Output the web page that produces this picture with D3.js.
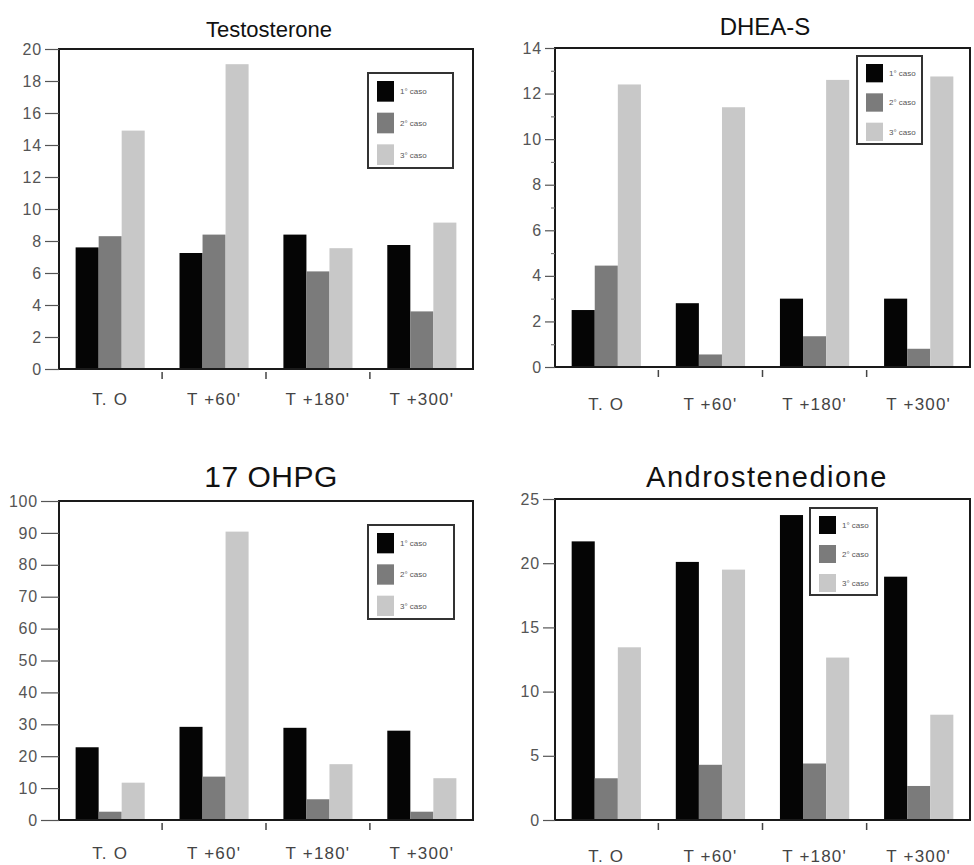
<!DOCTYPE html>
<html>
<head>
<meta charset="utf-8">
<script src="https://cdn.jsdelivr.net/npm/d3@7"></script>
<style>
  body { margin: 0; background: #fff; }
  text { font-family: "Liberation Sans", Arial, sans-serif; }
</style>
</head>
<body>
<div id="chart"></div>
<script>
// Shared categories
const timepoints = ["T. O", "T +60'", "T +180'", "T +300'"];
const cases = ["1° caso", "2° caso", "3° caso"];
const caseColors = ["#050505", "#7b7b7b", "#c8c8c8"];

// Testosterone
const testoCase1 = [7.6, 7.25, 8.4, 7.75];
const testoCase2 = [8.3, 8.4, 6.1, 3.6];
const testoCase3 = [14.9, 19.05, 7.55, 9.15];
const testoTicks = [0, 2, 4, 6, 8, 10, 12, 14, 16, 18, 20];

// DHEA-S
const dheaCase1 = [2.5, 2.8, 3.0, 3.0];
const dheaCase2 = [4.45, 0.55, 1.35, 0.8];
const dheaCase3 = [12.4, 11.4, 12.6, 12.75];
const dheaTicks = [0, 2, 4, 6, 8, 10, 12, 14];
const dheaMinor = [1, 3, 5, 7, 9, 11, 13];

// 17 OHPG
const ohpgCase1 = [22.8, 29.2, 28.9, 28.0];
const ohpgCase2 = [2.6, 13.6, 6.5, 2.6];
const ohpgCase3 = [11.7, 90.4, 17.5, 13.1];
const ohpgTicks = [0, 10, 20, 30, 40, 50, 60, 70, 80, 90, 100];

// Androstenedione
const androCase1 = [21.7, 20.1, 23.75, 18.95];
const androCase2 = [3.25, 4.3, 4.4, 2.65];
const androCase3 = [13.45, 19.5, 12.65, 8.2];
const androTicks = [0, 5, 10, 15, 20, 25];

const width = 974;
const height = 865;

const svg = d3.select("#chart")
    .append("svg")
    .attr("width", width)
    .attr("height", height)
    .style("background-color", "#ffffff");

// Panel layout (positions only)
const panels = [
    { title: "Testosterone", titleSize: 22, titleX: 269, titleY: 37, spacing: 0,
      left: 59, top: 49, right: 473, bottom: 369, ticks: testoTicks, minor: [],
      series: [testoCase1, testoCase2, testoCase3], tickLen: 14, labelY: 405,
      legend: { x: 368, y: 73, w: 85, h: 95 } },
    { title: "DHEA-S", titleSize: 24, titleX: 765, titleY: 35, spacing: 0,
      left: 555, top: 48, right: 970, bottom: 367, ticks: dheaTicks, minor: dheaMinor,
      series: [dheaCase1, dheaCase2, dheaCase3], tickLen: 10, labelY: 410,
      legend: { x: 857, y: 56, w: 65, h: 88 } },
    { title: "17 OHPG", titleSize: 30, titleX: 271, titleY: 487, spacing: 0.5,
      left: 59, top: 501, right: 473, bottom: 820, ticks: ohpgTicks, minor: [],
      series: [ohpgCase1, ohpgCase2, ohpgCase3], tickLen: 18, labelY: 859,
      legend: { x: 368, y: 525, w: 86, h: 94 } },
    { title: "Androstenedione", titleSize: 29, titleX: 767, titleY: 487, spacing: 1.5,
      left: 555, top: 499, right: 970, bottom: 820, ticks: androTicks, minor: [],
      series: [androCase1, androCase2, androCase3], tickLen: 12, labelY: 862,
      legend: { x: 810, y: 508, w: 67, h: 87 } }
];

function drawPanel(p) {
    const g = svg.append("g");

    const x0 = d3.scaleBand()
        .domain(timepoints)
        .range([p.left, p.right])
        .paddingInner(0.335)
        .paddingOuter(0.16);

    const x1 = d3.scaleBand()
        .domain(cases)
        .range([0, x0.bandwidth()]);

    const y = d3.scaleLinear()
        .domain([0, d3.max(p.ticks)])
        .range([p.bottom, p.top]);

    // Title
    g.append("text")
        .attr("x", p.titleX)
        .attr("y", p.titleY)
        .attr("text-anchor", "middle")
        .attr("font-size", p.titleSize)
        .attr("letter-spacing", p.spacing)
        .attr("fill", "#111")
        .text(p.title);

    // Bars
    const rows = timepoints.map((t, i) => ({ t, values: p.series.map(s => s[i]) }));
    const groups = g.selectAll(".grp")
        .data(rows)
        .enter()
        .append("g")
        .attr("transform", d => `translate(${x0(d.t)},0)`);

    groups.selectAll("rect")
        .data(d => d.values.map((v, k) => ({ c: cases[k], v, k })))
        .enter()
        .append("rect")
        .attr("x", d => x1(d.c))
        .attr("y", d => y(d.v))
        .attr("width", x1.bandwidth())
        .attr("height", d => p.bottom - y(d.v))
        .attr("fill", d => caseColors[d.k]);

    // Frame
    g.append("rect")
        .attr("x", p.left)
        .attr("y", p.top)
        .attr("width", p.right - p.left)
        .attr("height", p.bottom - p.top)
        .attr("fill", "none")
        .attr("stroke", "#1a1a1a")
        .attr("stroke-width", 2);

    // Y axis
    const yAxis = d3.axisLeft(y)
        .tickValues(p.ticks)
        .tickSize(p.tickLen)
        .tickPadding(3)
        .tickFormat(d3.format("d"));
    const ya = g.append("g")
        .attr("transform", `translate(${p.left},0)`)
        .call(yAxis);
    ya.select(".domain").remove();
    ya.selectAll(".tick line").attr("stroke", "#555").attr("stroke-width", 1.2);
    ya.selectAll(".tick text")
        .attr("font-size", 16)
        .attr("letter-spacing", 0.8)
        .attr("fill", "#555")
        .attr("font-family", "Liberation Sans, Arial, sans-serif");

    if (p.minor.length) {
        const ym = g.append("g")
            .attr("transform", `translate(${p.left},0)`)
            .call(d3.axisLeft(y).tickValues(p.minor).tickSize(4).tickFormat(""));
        ym.select(".domain").remove();
        ym.selectAll(".tick line").attr("stroke", "#777").attr("stroke-width", 1.2);
    }

    // Boundary ticks between groups on the x axis
    const bounds = timepoints.slice(1).map(t => x0(t) - x0.step() * x0.paddingInner() / 2);
    g.selectAll(".bnd")
        .data(bounds)
        .enter()
        .append("line")
        .attr("x1", d => d)
        .attr("x2", d => d)
        .attr("y1", p.bottom + 3)
        .attr("y2", p.bottom + 10)
        .attr("stroke", "#444")
        .attr("stroke-width", 1.5);

    // X labels
    g.selectAll(".xl")
        .data(timepoints)
        .enter()
        .append("text")
        .attr("x", d => x0(d) + x0.bandwidth() / 2)
        .attr("y", p.labelY)
        .attr("text-anchor", "middle")
        .attr("font-size", 17)
        .attr("letter-spacing", 1.2)
        .attr("fill", "#444")
        .text(d => d);

    // Legend
    const L = p.legend;
    g.append("rect")
        .attr("x", L.x)
        .attr("y", L.y)
        .attr("width", L.w)
        .attr("height", L.h)
        .attr("fill", "#fff")
        .attr("stroke", "#333")
        .attr("stroke-width", 2);

    const rowH = L.h / 3;
    const items = g.selectAll(".leg")
        .data(cases)
        .enter()
        .append("g")
        .attr("transform", (d, i) => `translate(${L.x + 9},${L.y + 8 + i * rowH})`);
    items.append("rect")
        .attr("width", 17)
        .attr("height", rowH - 11)
        .attr("fill", (d, i) => caseColors[i]);
    items.append("text")
        .attr("x", 23)
        .attr("y", (rowH - 11) / 2 + 3)
        .attr("font-size", 8)
        .attr("fill", "#555")
        .text(d => d);
}

panels.forEach(drawPanel);
</script>
</body>
</html>
